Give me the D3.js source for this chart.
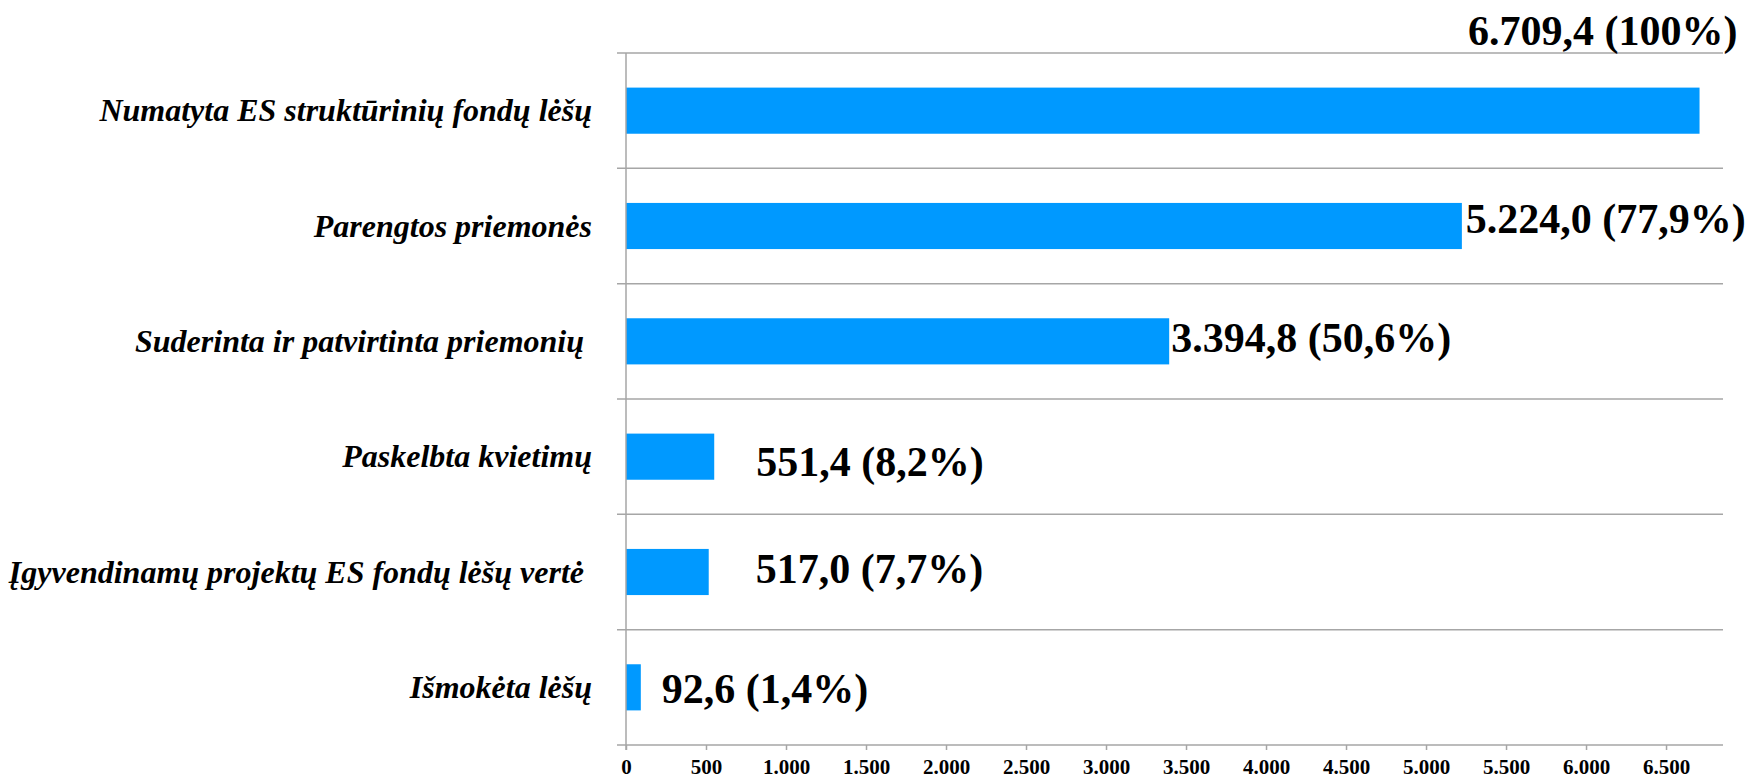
<!DOCTYPE html>
<html>
<head>
<meta charset="utf-8">
<script src="https://cdn.jsdelivr.net/npm/d3@7"></script>
<style>
  html, body { margin: 0; padding: 0; background: #ffffff; }
  svg { display: block; }
  text { white-space: pre; }
</style>
</head>
<body>
<svg id="chart" width="1754" height="779"></svg>
<script>
// ---- data ----
const categories = [
  "Numatyta ES struktūrinių fondų lėšų",
  "Parengtos priemonės",
  "Suderinta ir patvirtinta priemonių ",
  "Paskelbta kvietimų",
  "Įgyvendinamų projektų ES fondų lėšų vertė ",
  "Išmokėta lėšų"
];
const values = [6709.4, 5224.0, 3394.8, 551.4, 517.0, 92.6];
const valueLabels = [
  "6.709,4 (100%)",
  "5.224,0 (77,9%)",
  "3.394,8 (50,6%)",
  "551,4 (8,2%)",
  "517,0 (7,7%)",
  "92,6 (1,4%)"
];
const tickValues = [0, 500, 1000, 1500, 2000, 2500, 3000, 3500, 4000, 4500, 5000, 5500, 6000, 6500];
const tickLabels = ["0", "500", "1.000", "1.500", "2.000", "2.500", "3.000", "3.500", "4.000", "4.500", "5.000", "5.500", "6.000", "6.500"];

// ---- layout (not data) ----
const plot = { left: 626, right: 1723, top: 53, bottom: 745 };
const axisMax = 6856;
// manual label placement offsets relative to bar end / bar centre (as in the original)
const labelPlacement = [
  { anchor: "end",   dx: 38, dy: null },
  { anchor: "start", dx: 4,  dy: 7 },
  { anchor: "start", dx: 2,  dy: 11 },
  { anchor: "start", dx: 42, dy: 19 },
  { anchor: "start", dx: 47, dy: 11 },
  { anchor: "start", dx: 21, dy: 16 }
];

const svg = d3.select("#chart");
const gridColor = "#a6a6a6";
const barColor = "#0099ff";
const serif = "'Liberation Serif', 'Times New Roman', serif";

const x = d3.scaleLinear().domain([0, axisMax]).range([plot.left, plot.right]);
const y = d3.scaleBand().domain(categories).range([plot.top, plot.bottom])
  .paddingInner(0.6).paddingOuter(0.3);
const step = y.step();

// horizontal gridlines at category boundaries
const boundaries = categories.map(c => y(c) - step * 0.3);
svg.append("g").selectAll("line").data(boundaries).join("line")
  .attr("x1", plot.left - 9).attr("x2", plot.right)
  .attr("y1", d => d).attr("y2", d => d)
  .attr("stroke", gridColor).attr("stroke-width", 1.5);

// bars
svg.append("g").selectAll("rect").data(values).join("rect")
  .attr("x", x(0))
  .attr("y", (d, i) => y(categories[i]))
  .attr("width", d => x(d) - x(0))
  .attr("height", y.bandwidth())
  .attr("fill", barColor);

// x axis
const xAxis = d3.axisBottom(x)
  .tickValues(tickValues)
  .tickSize(5)
  .tickPadding(9)
  .tickFormat((d, i) => tickLabels[i]);
const gx = svg.append("g").attr("transform", `translate(0,${plot.bottom})`).call(xAxis);
gx.select(".domain").remove();
gx.append("line").attr("x1", plot.left - 9).attr("x2", plot.right)
  .attr("y1", 0).attr("y2", 0).attr("stroke", gridColor).attr("stroke-width", 1.5);
gx.selectAll(".tick line").attr("stroke", gridColor).attr("stroke-width", 1.5);
gx.selectAll(".tick text")
  .attr("fill", "#000")
  .attr("font-family", serif)
  .attr("font-weight", "bold")
  .attr("font-size", 21)
  .attr("dy", "0.71em");

// y axis line
svg.append("line")
  .attr("x1", plot.left).attr("x2", plot.left)
  .attr("y1", plot.top).attr("y2", plot.bottom + 5)
  .attr("stroke", gridColor).attr("stroke-width", 1.5);

// category labels
svg.append("g").selectAll("text").data(categories).join("text")
  .attr("x", 592)
  .attr("y", d => y(d) + y.bandwidth() / 2)
  .attr("dy", "0.33em")
  .attr("text-anchor", "end")
  .attr("font-family", serif)
  .attr("font-weight", "bold")
  .attr("font-style", "italic")
  .attr("font-size", 32)
  .attr("fill", "#000")
  .text(d => d);

// value labels
svg.append("g").selectAll("text").data(values).join("text")
  .attr("x", (d, i) => x(d) + labelPlacement[i].dx)
  .attr("y", (d, i) => labelPlacement[i].dy === null
      ? y(categories[i]) - step * 0.3 - 8
      : y(categories[i]) + y.bandwidth() / 2 + labelPlacement[i].dy)
  .attr("text-anchor", (d, i) => labelPlacement[i].anchor)
  .attr("font-family", serif)
  .attr("font-weight", "bold")
  .attr("font-size", 42)
  .attr("fill", "#000")
  .text((d, i) => valueLabels[i]);
</script>
</body>
</html>
